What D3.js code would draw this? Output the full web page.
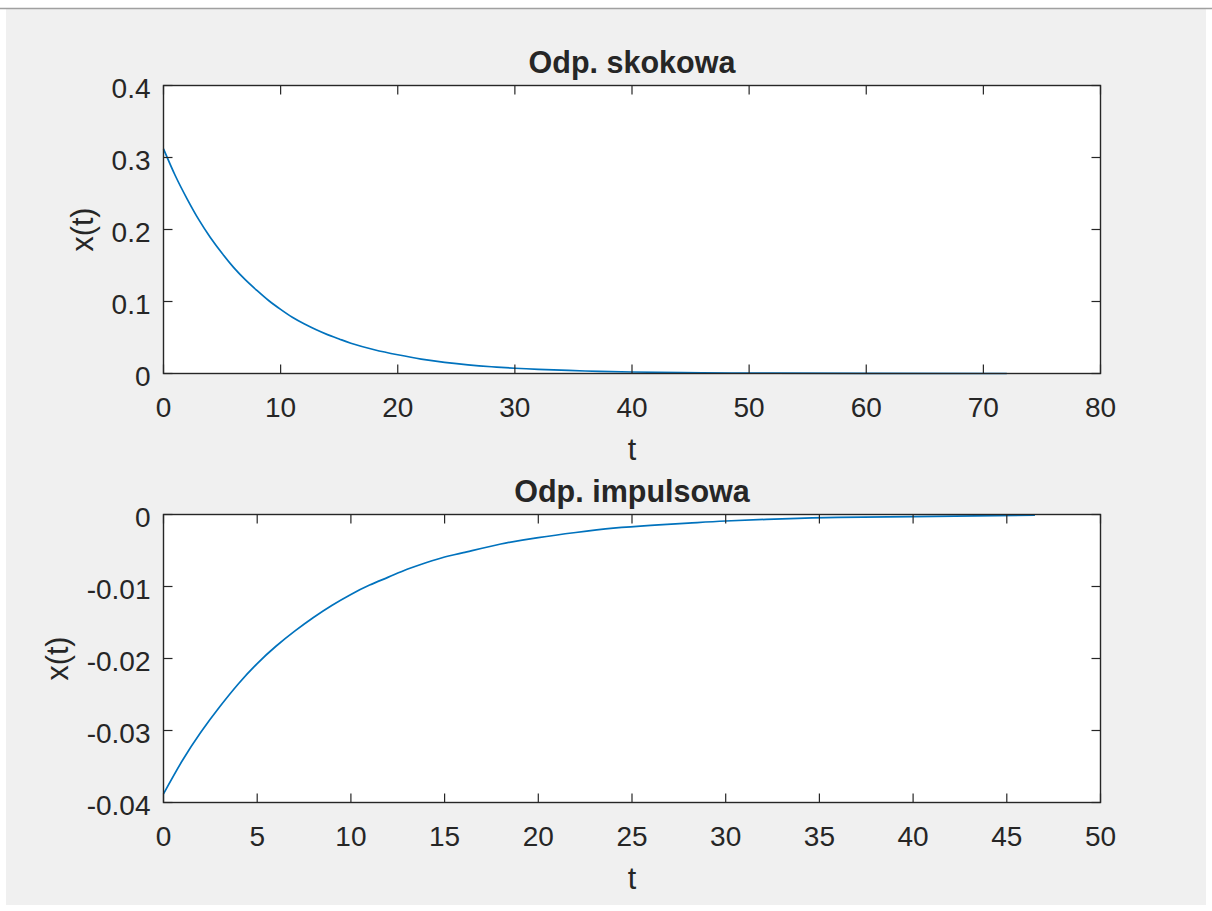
<!DOCTYPE html>
<html>
<head>
<meta charset="utf-8">
<script src="https://cdn.jsdelivr.net/npm/d3@7"></script>
<style>
  body { margin: 0; background: #ffffff; }
  text { font-family: "Liberation Sans", Arial, sans-serif; fill: #262626; }
</style>
</head>
<body>
<div id="fig"></div>
<script>
// step response
var stepT = [0, 1, 2, 3, 4, 5, 6, 7, 8, 9, 10, 11, 12, 13, 14, 15, 16, 18, 20, 22, 24, 26, 28, 30, 32, 36, 40, 46, 52, 60, 72]
var stepX = [0.312, 0.275, 0.243, 0.214, 0.189, 0.167, 0.147, 0.130, 0.115, 0.101, 0.089, 0.078, 0.069, 0.061,
             0.054, 0.048, 0.042, 0.033, 0.026, 0.020, 0.0155, 0.012, 0.0094, 0.0073, 0.0057, 0.0035, 0.0021,
             0.001, 0.0005, 0.0002, 0.0]
var stepXTicks = [0, 10, 20, 30, 40, 50, 60, 70, 80]
var stepYTicks = [0, 0.1, 0.2, 0.3, 0.4]

// impulse response
var impT = [0, 1, 2, 3, 4, 5, 6, 7, 8, 9, 10, 11, 12, 13, 14, 15, 16, 18, 20, 22, 24, 26, 28, 30, 33, 36, 40, 46.5]
var impX = [-0.0388, -0.0342, -0.0302, -0.0267, -0.0235, -0.0207, -0.0183, -0.0162, -0.0143, -0.0126, -0.0111,
            -0.0098, -0.0087, -0.0076, -0.0067, -0.0059, -0.0053, -0.0041, -0.0032, -0.0025, -0.0019, -0.0015,
            -0.0012, -0.0009, -0.0006, -0.0004, -0.0003, -0.0001]
var impXTicks = [0, 5, 10, 15, 20, 25, 30, 35, 40, 45, 50]
var impYTicks = [-0.04, -0.03, -0.02, -0.01, 0]

var W = 1212, H = 911
var svg = d3.select("#fig").append("svg")
    .attr("width", W).attr("height", H)

// figure background
svg.append("rect").attr("x", 6).attr("y", 8).attr("width", W - 12).attr("height", H - 14)
    .attr("fill", "#f0f0f0")
svg.append("line").attr("x1", 0).attr("x2", W).attr("y1", 8.5).attr("y2", 8.5)
    .attr("stroke", "#a0a0a0").attr("stroke-width", 1.5)

var axCol = "#262626"
var tickLen = 9

function panel(cfg) {
    var x = d3.scaleLinear().domain(cfg.xdom).range([cfg.left, cfg.right])
    var y = d3.scaleLinear().domain(cfg.ydom).range([cfg.bottom, cfg.top])
    var g = svg.append("g")

    g.append("rect")
        .attr("x", cfg.left).attr("y", cfg.top)
        .attr("width", cfg.right - cfg.left).attr("height", cfg.bottom - cfg.top)
        .attr("fill", "#ffffff")

    // data line
    var line = d3.line()
        .x(function(d) { return x(d[0]) })
        .y(function(d) { return y(d[1]) })
        .curve(d3.curveNatural)
    g.append("path")
        .datum(cfg.t.map(function(t, i) { return [t, cfg.v[i]] }))
        .attr("fill", "none")
        .attr("stroke", "#0072bd")
        .attr("stroke-width", 1.7)
        .attr("d", line)

    // ticks inside on all four sides (box on)
    var ticks = g.append("g").attr("stroke", axCol).attr("stroke-width", 1.2)
    cfg.xticks.forEach(function(v) {
        var px = x(v)
        ticks.append("line").attr("x1", px).attr("x2", px).attr("y1", cfg.bottom).attr("y2", cfg.bottom - tickLen)
        ticks.append("line").attr("x1", px).attr("x2", px).attr("y1", cfg.top).attr("y2", cfg.top + tickLen)
    })
    cfg.yticks.forEach(function(v) {
        var py = y(v)
        ticks.append("line").attr("x1", cfg.left).attr("x2", cfg.left + tickLen).attr("y1", py).attr("y2", py)
        ticks.append("line").attr("x1", cfg.right).attr("x2", cfg.right - tickLen).attr("y1", py).attr("y2", py)
    })

    g.append("rect")
        .attr("x", cfg.left).attr("y", cfg.top)
        .attr("width", cfg.right - cfg.left).attr("height", cfg.bottom - cfg.top)
        .attr("fill", "none").attr("stroke", axCol).attr("stroke-width", 1.4)

    // tick labels
    g.selectAll(".xl").data(cfg.xticks).enter().append("text")
        .attr("x", function(d) { return x(d) })
        .attr("y", cfg.bottom + 43)
        .attr("text-anchor", "middle")
        .style("font-size", "28px")
        .text(function(d) { return d })
    g.selectAll(".yl").data(cfg.yticks).enter().append("text")
        .attr("x", cfg.left - 13)
        .attr("y", function(d) { return y(d) + 12 })
        .attr("text-anchor", "end")
        .style("font-size", "28px")
        .text(function(d) { return d3.format("")(d).replace("−", "-") })

    // labels
    g.append("text")
        .attr("x", (cfg.left + cfg.right) / 2).attr("y", cfg.top - 13)
        .attr("text-anchor", "middle")
        .style("font-size", "30.5px").style("font-weight", "bold")
        .text(cfg.title)
    g.append("text")
        .attr("x", (cfg.left + cfg.right) / 2).attr("y", cfg.bottom + 86)
        .attr("text-anchor", "middle")
        .style("font-size", "30.5px")
        .text("t")
    g.append("text")
        .attr("transform", "translate(" + cfg.ylabX + "," + (cfg.top + cfg.bottom) / 2 + ") rotate(-90)")
        .attr("text-anchor", "middle")
        .style("font-size", "30.5px")
        .text("x(t)")
}

panel({
    title: "Odp. skokowa", t: stepT, v: stepX,
    xdom: [0, 80], ydom: [0, 0.4], xticks: stepXTicks, yticks: stepYTicks,
    left: 163.5, right: 1100.5, top: 85.5, bottom: 373.5, ylabX: 93
})
panel({
    title: "Odp. impulsowa", t: impT, v: impX,
    xdom: [0, 50], ydom: [-0.04, 0], xticks: impXTicks, yticks: impYTicks,
    left: 163.5, right: 1100.5, top: 514.5, bottom: 802.5, ylabX: 68
})
</script>
</body>
</html>
